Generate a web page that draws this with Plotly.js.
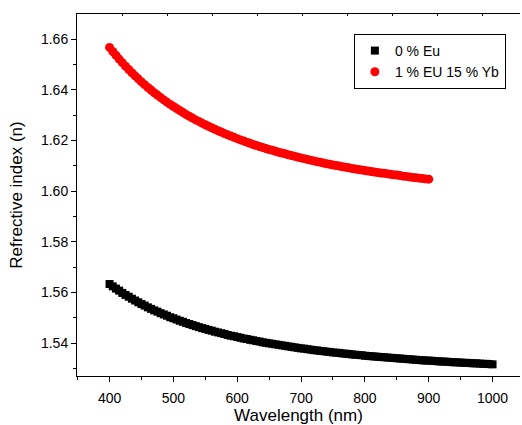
<!DOCTYPE html>
<html>
<head>
<meta charset="utf-8">
<script src="https://cdn.plot.ly/plotly-3.0.1.min.js"></script>
<style>html,body{margin:0;padding:0;background:#fff;}#chart{width:522px;height:425px;}</style>
</head>
<body>
<div id="chart"></div>
<script>
// Wavelength (nm) sample positions, 0 % Eu (400-1000 nm, every 5 nm)
const wavelengthEu0 = [400,405,410,415,420,425,430,435,440,445,450,455,460,465,470,475,480,485,490,495,500,505,510,515,520,525,530,535,540,545,550,555,560,565,570,575,580,585,590,595,600,605,610,615,620,625,630,635,640,645,650,655,660,665,670,675,680,685,690,695,700,705,710,715,720,725,730,735,740,745,750,755,760,765,770,775,780,785,790,795,800,805,810,815,820,825,830,835,840,845,850,855,860,865,870,875,880,885,890,895,900,905,910,915,920,925,930,935,940,945,950,955,960,965,970,975,980,985,990,995,1000];
// Refractive index
const indexEu0 = [1.5633,1.5624,1.5615,1.5607,1.5598,1.5590,1.5583,1.5575,1.5568,1.5561,1.5554,1.5548,1.5541,1.5535,1.5529,1.5524,1.5518,1.5513,1.5508,1.5502,1.5498,1.5493,1.5488,1.5484,1.5479,1.5475,1.5471,1.5467,1.5463,1.5459,1.5456,1.5452,1.5449,1.5445,1.5442,1.5439,1.5436,1.5432,1.5429,1.5427,1.5424,1.5421,1.5418,1.5416,1.5413,1.5411,1.5408,1.5406,1.5403,1.5401,1.5399,1.5397,1.5395,1.5393,1.5391,1.5389,1.5387,1.5385,1.5383,1.5381,1.5379,1.5378,1.5376,1.5374,1.5372,1.5371,1.5369,1.5368,1.5366,1.5365,1.5363,1.5362,1.5361,1.5359,1.5358,1.5357,1.5355,1.5354,1.5353,1.5352,1.5350,1.5349,1.5348,1.5347,1.5346,1.5345,1.5344,1.5343,1.5342,1.5341,1.5340,1.5339,1.5338,1.5337,1.5336,1.5335,1.5334,1.5333,1.5332,1.5331,1.5331,1.5330,1.5329,1.5328,1.5327,1.5327,1.5326,1.5325,1.5324,1.5324,1.5323,1.5322,1.5322,1.5321,1.5320,1.5320,1.5319,1.5318,1.5318,1.5317,1.5316];

// Wavelength (nm) sample positions, 1 % EU 15 % Yb (400-900 nm, every 5 nm)
const wavelengthEuYb = [400,405,410,415,420,425,430,435,440,445,450,455,460,465,470,475,480,485,490,495,500,505,510,515,520,525,530,535,540,545,550,555,560,565,570,575,580,585,590,595,600,605,610,615,620,625,630,635,640,645,650,655,660,665,670,675,680,685,690,695,700,705,710,715,720,725,730,735,740,745,750,755,760,765,770,775,780,785,790,795,800,805,810,815,820,825,830,835,840,845,850,855,860,865,870,875,880,885,890,895,900];
// Refractive index
const indexEuYb = [1.6567,1.6551,1.6536,1.6521,1.6507,1.6493,1.6480,1.6467,1.6455,1.6443,1.6431,1.6420,1.6409,1.6399,1.6388,1.6379,1.6369,1.6360,1.6351,1.6342,1.6334,1.6326,1.6318,1.6310,1.6302,1.6295,1.6288,1.6281,1.6275,1.6268,1.6262,1.6256,1.6250,1.6244,1.6238,1.6233,1.6227,1.6222,1.6217,1.6212,1.6207,1.6202,1.6198,1.6193,1.6189,1.6184,1.6180,1.6176,1.6172,1.6168,1.6164,1.6161,1.6157,1.6153,1.6150,1.6147,1.6143,1.6140,1.6137,1.6134,1.6131,1.6128,1.6125,1.6122,1.6119,1.6116,1.6114,1.6111,1.6108,1.6106,1.6103,1.6101,1.6099,1.6096,1.6094,1.6092,1.6089,1.6087,1.6085,1.6083,1.6081,1.6079,1.6077,1.6075,1.6073,1.6071,1.6070,1.6068,1.6066,1.6064,1.6063,1.6061,1.6059,1.6058,1.6056,1.6054,1.6053,1.6051,1.6050,1.6048,1.6047];

const seriesNames = ["0 % Eu", "1 % EU 15 % Yb"];
const xTitle = "Wavelength (nm)";
const yTitle = "Refrective index (n)";

const FONT = "Arial, 'Liberation Sans', sans-serif";

const traces = [
  {
    x: wavelengthEu0, y: indexEu0, name: seriesNames[0],
    type: "scatter", mode: "markers",
    marker: {symbol: "square", size: 8, color: "#000000", line: {width: 0}}
  },
  {
    x: wavelengthEuYb, y: indexEuYb, name: seriesNames[1],
    type: "scatter", mode: "markers",
    marker: {symbol: "circle", size: 9, color: "#ff0000", line: {width: 0}}
  },
  {
    x: [], y: [], xaxis: "x2", yaxis: "y", showlegend: false, hoverinfo: "skip",
    type: "scatter", mode: "markers"
  }
];

const layout = {
  width: 522, height: 425,
  margin: {l: 77, r: 2, t: 14, b: 49, pad: 0},
  paper_bgcolor: "#ffffff", plot_bgcolor: "#ffffff",
  font: {family: FONT, size: 14, color: "#000000"},
  showlegend: true,
  legend: {
    x: 0.625, y: 0.9448, xanchor: "left", yanchor: "top",
    bordercolor: "#000000", borderwidth: 1, bgcolor: "#ffffff",
    font: {family: FONT, size: 14, color: "#000000"},
    tracegroupgap: 0, itemwidth: 30
  },
  xaxis: {
    range: [349, 1043], showgrid: false, zeroline: false,
    showline: true, linecolor: "#000000", linewidth: 1, mirror: true,
    tickmode: "linear", tick0: 400, dtick: 100,
    ticks: "outside", ticklen: 5, tickwidth: 1, tickcolor: "#000000",
    minor: {dtick: 50, tick0: 400, ticks: "outside", ticklen: 3, tickwidth: 1, tickcolor: "#000000", showgrid: false},
    ticklabelstandoff: 4,
    tickfont: {family: FONT, size: 14, color: "#000000"},
    title: {text: xTitle, font: {family: FONT, size: 17, color: "#000000"}, standoff: 8}
  },
  xaxis2: {
    overlaying: "x", side: "top", anchor: "y",
    range: [0, 443], showgrid: false, zeroline: false, showline: false,
    tickmode: "linear", tick0: 0, dtick: 45,
    ticks: "inside", ticklen: 2, tickwidth: 1, tickcolor: "#000000",
    showticklabels: false
  },
  yaxis: {
    range: [1.527, 1.6699], showgrid: false, zeroline: false,
    showline: true, linecolor: "#000000", linewidth: 1, mirror: false,
    tickmode: "linear", tick0: 1.54, dtick: 0.02, tickformat: ".2f",
    ticks: "outside", ticklen: 5, tickwidth: 1, tickcolor: "#000000",
    minor: {dtick: 0.01, tick0: 1.54, ticks: "outside", ticklen: 3, tickwidth: 1, tickcolor: "#000000", showgrid: false},
    tickfont: {family: FONT, size: 14, color: "#000000"},
    title: {text: yTitle, font: {family: FONT, size: 17, color: "#000000"}, standoff: 14}
  }
};

Plotly.newPlot("chart", traces, layout, {staticPlot: true, displayModeBar: false});
</script>
</body>
</html>
